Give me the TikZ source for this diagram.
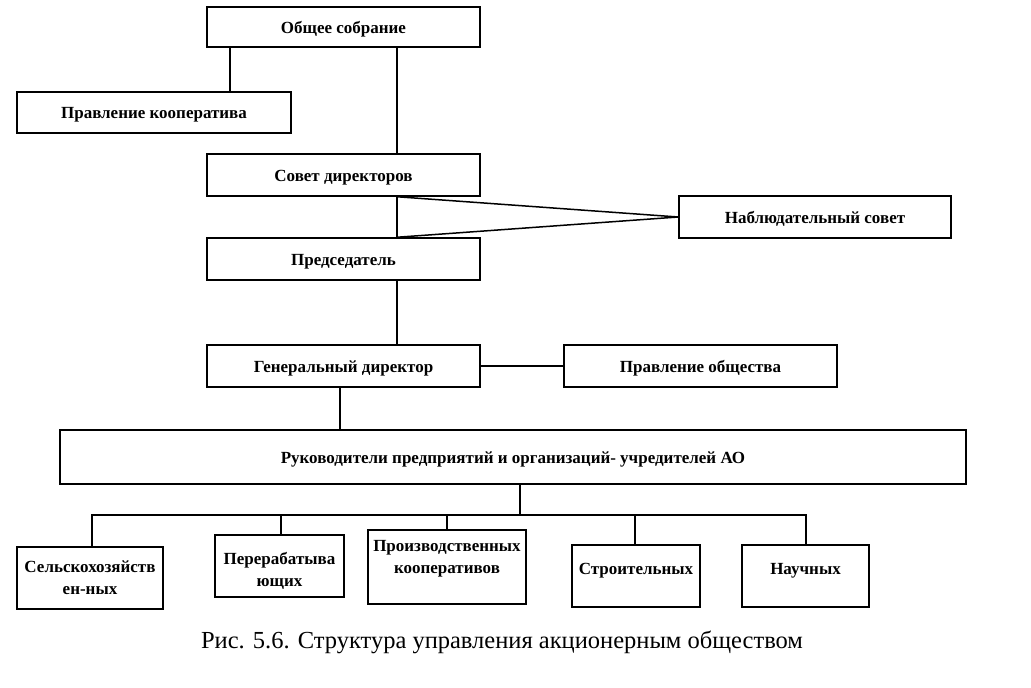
\documentclass[tikz,border=0pt]{standalone}
\usepackage{fontspec}
\setmainfont{Liberation Serif}
\begin{document}
\begin{tikzpicture}[x=1pt,y=-1pt,
  txt/.style={font=\fontsize{17}{22}\selectfont\bfseries, align=center, inner sep=0pt},
  box/.style={draw, line width=1.5pt, rectangle, inner sep=0pt, txt},
  one/.style={text height=16pt, text depth=4pt},
  conn/.style={line width=1.5pt}]
\useasboundingbox[fill=white] (0,0) rectangle (1031,688);
\node[box, one, minimum width=273, minimum height=40] (ob) at (343.5,27) {Общее собрание};
\node[box, one, minimum width=274, minimum height=41] (pk) at (154,112.5) {Правление кооператива};
\node[box, one, minimum width=273, minimum height=42] (sd) at (343.5,175) {Совет директоров};
\node[box, one, minimum width=272, minimum height=42] (ns) at (815,217) {Наблюдательный совет};
\node[box, one, minimum width=273, minimum height=42] (pr) at (343.5,259) {Председатель};
\node[box, one, minimum width=273, minimum height=42] (gd) at (343.5,366) {Генеральный директор};
\node[box, one, minimum width=273, minimum height=42] (po) at (700.5,366) {Правление общества};
\node[box, one, minimum width=906, minimum height=54] (ru) at (513,457) {Руководители предприятий и организаций- учредителей АО};
\node[box, minimum width=146, minimum height=62] (s1) at (90,578) {Сельскохозяйств\\ен-ных};
\node[box, minimum width=129, minimum height=62] (s2) at (279.5,566) {};
\node[txt] at ([yshift=-5]s2.center) {Перерабатыва\\ющих};
\node[box, minimum width=158, minimum height=74] (s3) at (447,567) {};
\node[txt] at ([yshift=8]s3.center) {Производственных\\кооперативов};
\node[box, minimum width=128, minimum height=62] (s4) at (636,576) {};
\node[txt, one] at ([yshift=8]s4.center) {Строительных};
\node[box, minimum width=127, minimum height=62] (s5) at (805.5,576) {};
\node[txt, one] at ([yshift=8]s5.center) {Научных};
\node[font=\fontsize{24.5}{28}\selectfont] (cap) at (502,642) {Рис. 5.6. Структура управления акционерным обществом};
% connectors
\draw[conn] ([xshift=23.5]ob.south west) -- ([xshift=213.5]pk.north west);
\draw[conn] ([xshift=53.5]ob.south) -- ([xshift=53.5]sd.north);
\draw[conn] ([xshift=53.5]sd.south) -- ([xshift=53.5]pr.north);
\draw[conn] ([xshift=53.5]sd.south) -- (ns.west) -- ([xshift=53.5]pr.north);
\draw[conn] ([xshift=53.5]pr.south) -- ([xshift=53.5]gd.north);
\draw[conn] (gd.east) -- (po.west);
\draw[conn] ([xshift=-3.5]gd.south) coordinate (g1) -- (g1 |- ru.north);
\coordinate (bus) at (520,515);
\draw[conn] ([xshift=7]ru.south) -- (bus);
\draw[conn] ([xshift=2]s1.north) |- (bus) -| ([xshift=0.5]s5.north);
\draw[conn] ([xshift=1.5]s2.north) -- ([xshift=1.5]s2.north |- bus);
\draw[conn] (s3.north) -- (s3.north |- bus);
\draw[conn] ([xshift=-1]s4.north) -- ([xshift=-1]s4.north |- bus);
\end{tikzpicture}
\end{document}
